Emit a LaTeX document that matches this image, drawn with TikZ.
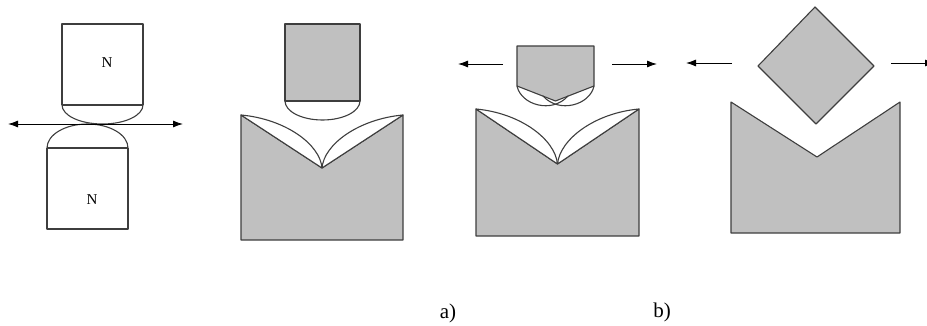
\documentclass[tikz,border=0pt]{standalone}
\usepackage{fontspec}
\setmainfont{Liberation Serif}
\usetikzlibrary{arrows.meta}
\definecolor{metal}{RGB}{192,192,192}
\definecolor{edge}{RGB}{62,62,62}
\begin{document}
\begin{tikzpicture}[x=1pt,y=-1pt,
  outline/.style={draw=edge,line width=1.1pt,line join=round},
  part/.style={outline,fill=metal},
  blank/.style={outline,fill=white},
  seam/.style={draw=edge,line width=1.8pt},
  motion/.style={draw=black,line width=0.9pt,-{Latex[length=10pt,width=7pt]}},
  tag/.style={font=\fontsize{15}{15}\selectfont,inner sep=0pt},
  caption/.style={font=\fontsize{21}{21}\selectfont,inner sep=0pt}]
\useasboundingbox (0,0) rectangle (927,326);

% --- rolling contact of two bodies under normal load N
\draw[blank] (62,105) -- (62,24) -- (143,24) -- (143,105);
\draw[outline] (62,105) arc[start angle=180,end angle=0,x radius=40.5,y radius=19];
\draw[seam] (62,105) -- (143,105);
\draw[blank] (47,148) -- (47,229) -- (128,229) -- (128,148);
\draw[outline] (47,148) arc[start angle=180,end angle=360,x radius=40.5,y radius=24];
\draw[seam] (47,148) -- (128,148);
\node[tag] (n1) at (107,63) {N};
\node[tag] (n2) at (92,200) {N};
\coordinate (s1l) at (8,124);
\coordinate (s1r) at (183,124);
\draw[motion,{Latex[length=10pt,width=7pt]}-{Latex[length=10pt,width=7pt]}] (s1l) -- (s1r);

% --- a) rounded punch above a V-die
\draw[part] (285,24) rectangle (360,101);
\draw[blank] (285,101) arc[start angle=180,end angle=0,x radius=37.5,y radius=19] -- cycle;
\draw[seam] (285,101) -- (360,101);
\draw[part] (241,115) -- (322,168) -- (403,115) -- (403,240) -- (241,240) -- cycle;
\draw[blank] (241,115) .. controls (285,119) and (320,144) .. (322,168) -- cycle;
\draw[blank] (403,115) .. controls (359,119) and (324,144) .. (322,168) -- cycle;

% --- pointed punch with sliding motion
\coordinate (m3a) at (503,64);
\coordinate (t3a) at (458,64);
\coordinate (m3b) at (612,64);
\coordinate (t3b) at (657,64);
\draw[motion] (m3a) -- (t3a);
\draw[motion] (m3b) -- (t3b);
\draw[part] (517,86) -- (517,46) -- (594,46) -- (594,86) -- (555.5,101) -- cycle;
\draw[outline] (517,86) .. controls (521,105) and (552,114) .. (568,96);
\draw[outline] (594,86) .. controls (590,105) and (559,114) .. (543,96);
\draw[part] (476,109) -- (557.5,164) -- (639,109) -- (639,236) -- (476,236) -- cycle;
\draw[blank] (476,109) .. controls (520,113) and (555,139) .. (557.5,164) -- cycle;
\draw[blank] (639,109) .. controls (595,113) and (560,139) .. (557.5,164) -- cycle;

% --- b) square tool turned on its corner
\coordinate (m4a) at (732,63);
\coordinate (t4a) at (686,63);
\coordinate (m4b) at (891,63);
\coordinate (t4b) at (935,63);
\draw[motion] (m4a) -- (t4a);
\draw[motion] (m4b) -- (t4b);
\draw[part] (815,7) -- (874,66) -- (816,124) -- (758,66) -- cycle;
\draw[part] (731,102) -- (817,157) -- (900,102) -- (900,233) -- (731,233) -- cycle;

% --- captions
\node[caption] (capa) at (448,313) {a)};
\node[caption] (capb) at (662,312) {b)};
\end{tikzpicture}
\end{document}
